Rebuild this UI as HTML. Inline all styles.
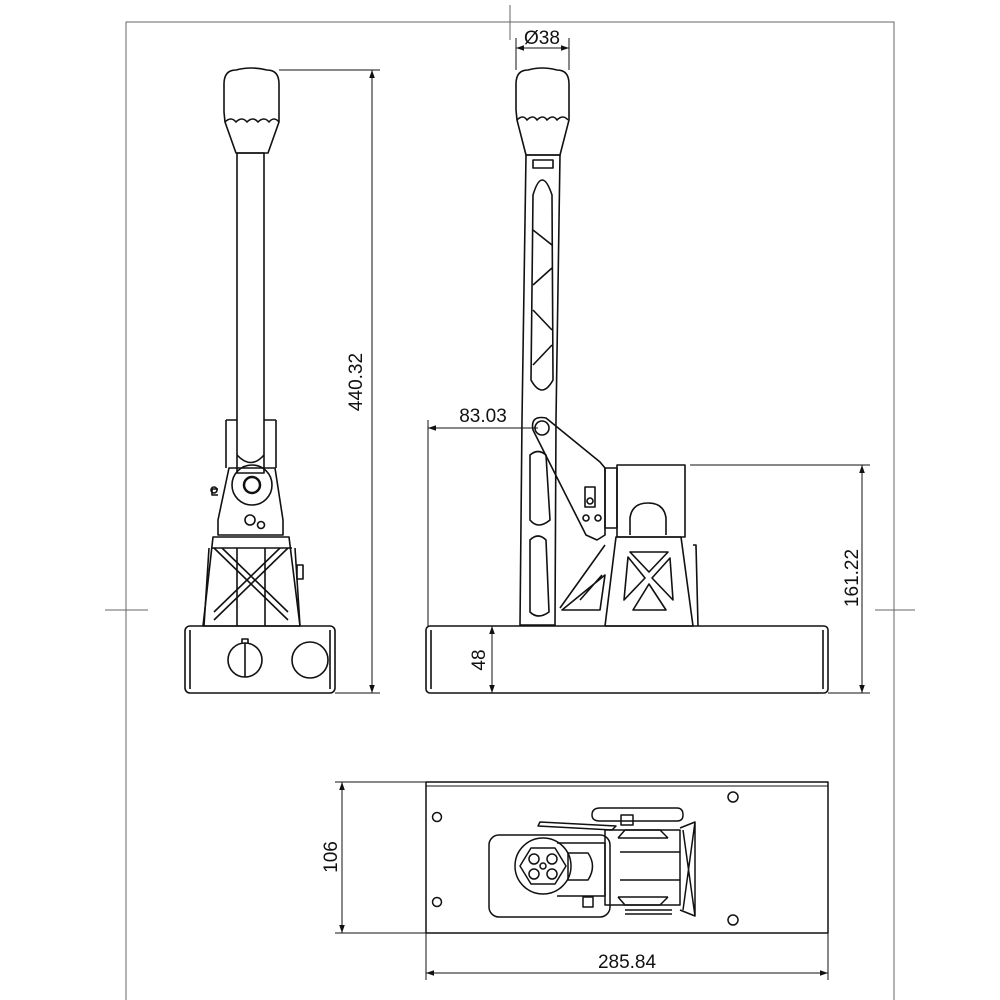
<!DOCTYPE html>
<html><head><meta charset="utf-8"><style>
html,body{margin:0;padding:0;background:#fff;}
svg{display:block}
text{font-family:"Liberation Sans",sans-serif;font-size:19px;fill:#111}
</style></head><body>
<svg width="1000" height="1000" viewBox="0 0 1000 1000" xmlns="http://www.w3.org/2000/svg">
<defs>
<marker id="a" viewBox="0 0 10 10" refX="10" refY="5" markerWidth="12" markerHeight="8" orient="auto-start-reverse" markerUnits="userSpaceOnUse"><path d="M0,1.5 L10,5 L0,8.5 Z" fill="#111"/></marker>
</defs>
<g fill="none" stroke="#111" stroke-width="1">
<path d="M126,1000 V22 H894 V1000" stroke="#666"/>
<line x1="510" y1="5" x2="510" y2="40" stroke="#666"/>
<line x1="105" y1="610" x2="148" y2="610" stroke="#666"/>
<line x1="875" y1="610" x2="915" y2="610" stroke="#666"/>
</g>

<g fill="none" stroke="#111" stroke-width="1.6" stroke-linejoin="round">
<path d="M224,112 V84 Q224,70 236,70 Q251,66 267,70 Q279,70 279,84 V122 L268,153 H236 L225,122 Z"/>
<path d="M225,122 q6,-6 11,0 q6,-6 11,0 q6,-6 11,0 q6,-6 11,0 q5,-6 10,0"/>
<rect x="237" y="153" width="27" height="320"/>
<path d="M226,420 V468 M276,420 V468 M226,420 H237 M264,420 H276"/>
<path d="M237,455 Q251,470 264,455"/>
<path d="M229,468 H275 L283,520 V535 H218 V520 Z"/>
<circle cx="252" cy="485" r="20"/><circle cx="252" cy="485" r="8" stroke-width="2.5"/>
<circle cx="250" cy="520" r="5"/><circle cx="261" cy="525" r="3.5"/>
<path d="M218,495 h-6 v-6 h6"/><circle cx="214" cy="490" r="3"/>
<path d="M213,537 H289 L300,626 H203 Z"/>
<path d="M211,548 H292 M209,548 L204,626 M295,548 L300,626"/>
<path d="M214,548 L288,620 M288,548 L214,620 M222,548 L288,612 M280,548 L214,612"/>
<path d="M237,548 V626 M265,548 V626"/>
<rect x="297" y="565" width="6" height="14"/>
<rect x="185" y="626" width="150" height="67" rx="5"/>
<path d="M190,630 V689 M330,630 V689"/>
<circle cx="245" cy="660" r="17"/><path d="M245,643 V677 M242,643 v-4 h6 v4"/>
<circle cx="310" cy="660" r="18"/>
</g>
<g fill="none" stroke="#111" stroke-width="1">
<line x1="279" y1="70" x2="380" y2="70"/><line x1="335" y1="693" x2="380" y2="693"/>
<line x1="372" y1="70" x2="372" y2="693" marker-start="url(#a)" marker-end="url(#a)"/>
</g>
<text x="355" y="382" text-anchor="middle" transform="rotate(-90 355 382)" dy="7">440.32</text>

<g fill="none" stroke="#111" stroke-width="1.6" stroke-linejoin="round">
<path d="M516,110 V84 Q516,70 528,70 Q542,66 557,70 Q569,70 569,84 V120 L560,155 H526 L517,120 Z"/>
<path d="M517,120 q6,-6 10,0 q6,-6 10,0 q6,-6 10,0 q6,-6 10,0 q6,-6 11,0"/>
<path d="M526,155 H560 L556,420 L555,625 H520 L522,420 Z"/>
<path d="M533,160 h20 v8 h-20 z"/>
<path d="M533,195 Q542,165 552,195 L553,380 Q542,400 531,380 Z"/>
<path d="M533,230 L552,245 M533,285 L552,268 M533,310 L552,330 M533,365 L552,345"/>
<path d="M530,455 Q538,448 546,455 L550,520 Q538,530 530,520 Z"/>
<path d="M530,540 Q538,532 546,540 L549,612 Q538,620 530,612 Z"/>
<path d="M533,430 Q530,415 546,418 L600,462 L605,468 V535 L597,540 L586,535 Z"/>
<circle cx="542" cy="428" r="7"/>
<rect x="585" y="487" width="10" height="20"/><circle cx="590" cy="501" r="3"/>
<circle cx="586" cy="518" r="3"/><circle cx="598" cy="518" r="3"/>
<rect x="605" y="468" width="12" height="60"/>
<rect x="617" y="465" width="68" height="72"/>
<path d="M630,535 V518 Q632,503 648,503 Q664,503 666,518 V535"/>
<path d="M616,537 H681 L693,626 H605 Z"/>
<path d="M696,545 L698,626 M693,545 h3 v4"/>
<path d="M630,552 H668 L649,572 Z M628,557 L645,578 L624,600 Z M652,578 L670,558 L673,600 Z M633,610 L649,584 L666,610 Z"/>
<path d="M560,608 L605,545 M562,610 H600 L605,575 Z M580,600 L602,575"/>
<rect x="426" y="626" width="402" height="67" rx="4"/>
<path d="M431,630 V689 M823,630 V689"/>
</g>
<g fill="none" stroke="#111" stroke-width="1">
<line x1="492" y1="626" x2="492" y2="693" marker-start="url(#a)" marker-end="url(#a)"/>
<line x1="428" y1="420" x2="428" y2="626"/>
<line x1="428" y1="428" x2="538" y2="428" marker-start="url(#a)"/>
<line x1="690" y1="465" x2="870" y2="465"/><line x1="828" y1="693" x2="870" y2="693"/>
<line x1="862" y1="465" x2="862" y2="693" marker-start="url(#a)" marker-end="url(#a)"/>
<line x1="516" y1="38" x2="516" y2="70"/><line x1="569" y1="38" x2="569" y2="70"/>
<line x1="516" y1="48" x2="569" y2="48" marker-start="url(#a)" marker-end="url(#a)"/>
</g>
<text x="478" y="660" text-anchor="middle" transform="rotate(-90 478 660)" dy="7">48</text>
<text x="483" y="422" text-anchor="middle">83.03</text>
<text x="851" y="578" text-anchor="middle" transform="rotate(-90 851 578)" dy="7">161.22</text>
<text x="542" y="44" text-anchor="middle">Ø38</text>

<g fill="none" stroke="#111" stroke-width="1.5" stroke-linejoin="round">
<rect x="426" y="782" width="402" height="151"/>
<path d="M426,786 H828" stroke-width="1"/>
<circle cx="437" cy="817" r="4.5"/><circle cx="437" cy="902" r="4.5"/>
<circle cx="733" cy="797" r="5"/><circle cx="733" cy="920" r="5"/>
<rect x="489" y="835" width="121" height="82" rx="10"/>
<circle cx="543" cy="866" r="28"/>
<path d="M531,848 H555 L566,866 L555,884 H531 L520,866 Z"/>
<circle cx="534" cy="859" r="5"/><circle cx="552" cy="859" r="5"/><circle cx="534" cy="874" r="5"/><circle cx="552" cy="874" r="5"/><circle cx="543" cy="866" r="3"/>
<path d="M557,843 H605 V896 H557"/>
<path d="M568,853 H588 Q597,866 588,880 H568 Z"/>
<rect x="583" y="897" width="10" height="10"/>
<path d="M538,826 L612,830 L616,826 L540,822 Z"/>
<path d="M592,815 Q592,808 600,808 H677 Q683,808 683,815 Q683,821 677,821 H600 Q592,821 592,815 Z"/>
<rect x="621" y="815" width="12" height="10"/>
<path d="M605,830 H680 V905 H605 Z"/>
<path d="M618,838 L625,830 H660 L668,838 M618,897 L625,905 H660 L668,897 M618,838 H668 M618,897 H668 M620,852 H680 M620,880 H680"/>
<path d="M680,828 L695,822 V916 L680,910 M683,830 L695,916 M695,822 L683,910"/>
<path d="M625,910 H672 M625,914 H672"/>
</g>
<g fill="none" stroke="#111" stroke-width="1">
<line x1="335" y1="782" x2="426" y2="782"/><line x1="335" y1="933" x2="426" y2="933"/>
<line x1="342" y1="782" x2="342" y2="933" marker-start="url(#a)" marker-end="url(#a)"/>
<line x1="426" y1="933" x2="426" y2="980"/><line x1="828" y1="933" x2="828" y2="980"/>
<line x1="426" y1="973" x2="828" y2="973" marker-start="url(#a)" marker-end="url(#a)"/>
</g>
<text x="330" y="857" text-anchor="middle" transform="rotate(-90 330 857)" dy="7">106</text>
<text x="627" y="968" text-anchor="middle">285.84</text>
</svg>
</body></html>
